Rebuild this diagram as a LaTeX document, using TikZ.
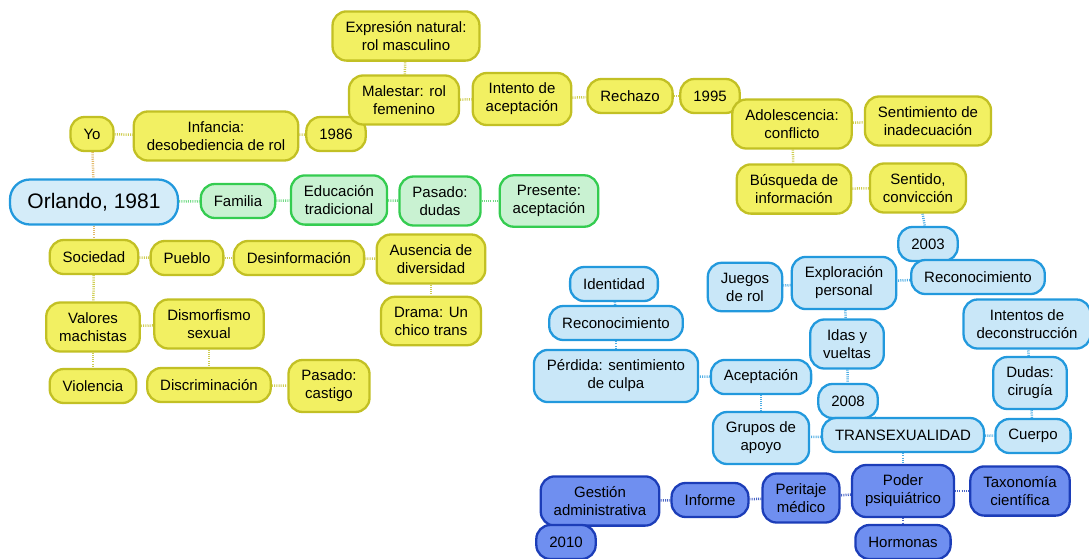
\documentclass[tikz,border=0pt]{standalone}
\usepackage{fontspec}
\setmainfont{Liberation Sans}
\usetikzlibrary{backgrounds}

\definecolor{yfill}{HTML}{F2F062}
\definecolor{yline}{HTML}{C2C024}
\definecolor{gfill}{HTML}{C9F2D2}
\definecolor{gline}{HTML}{34CC50}
\definecolor{bfill}{HTML}{C9E7F8}
\definecolor{bline}{HTML}{2299DD}
\definecolor{dfill}{HTML}{6F8FF0}
\definecolor{dline}{HTML}{1C3DB8}
\definecolor{olink}{HTML}{E2B868}

\tikzset{
  box/.style={draw, line width=2.3pt, rounded corners=14pt, align=center,
    inner xsep=13pt, inner ysep=10pt, minimum height=34pt,
    font=\fontsize{15}{18}\selectfont},
  ybox/.style={box, fill=yfill, draw=yline},
  gbox/.style={box, fill=gfill, draw=gline},
  bbox/.style={box, fill=bfill, draw=bline},
  dbox/.style={box, fill=dfill, draw=dline},
  link/.style={line width=2.5pt, dash pattern=on 1pt off 1.2pt},
  ylink/.style={link, draw=yline!80},
  glink/.style={link, draw=gline!70},
  blink/.style={link, draw=bline!80},
  dlink/.style={link, draw=dline!80},
}

\begin{document}
\begin{tikzpicture}[x=1pt, y=-1pt]
				\useasboundingbox (0,0) rectangle (1089,558);
				% centre
				\node[box, fill=bfill!80, draw=bline, rounded corners=20pt, minimum width=168pt, minimum height=45pt, font=\fontsize{21}{25}\selectfont] (orlando)at(94, 202) {Orlando, 1981};
				% top chain
				\node[ybox] (yo)at(92, 134) {Yo};
				\node[ybox] (infancia)at(216, 136) {Infancia:\\desobediencia de rol};
				\node[ybox] (y1986)at(336, 134) {1986};
				\node[ybox] (expresion)at(406, 36) {Expresión natural:\\rol masculino};
				\node[ybox] (malestar)at(404, 100) {Malestar: rol\\femenino};
				\node[ybox] (intento)at(522, 99) {Intento de\\aceptación};
				\node[ybox] (rechazo)at(630, 96) {Rechazo};
				\node[ybox] (y1995)at(710, 96) {1995};
				\node[ybox] (adolesc)at(792, 124) {Adolescencia:\\conflicto};
				\node[ybox] (sentim)at(928, 121) {Sentimiento de\\inadecuación};
				\node[ybox] (busqueda)at(794, 189) {Búsqueda de\\información};
				\node[ybox] (sentido)at(918, 188) {Sentido,\\convicción};
				% familia
				\node[gbox] (familia)at(238, 201) {Familia};
				\node[gbox] (educacion)at(339, 200) {Educación\\tradicional};
				\node[gbox] (pasdudas)at(440, 201) {Pasado:\\dudas};
				\node[gbox] (presente)at(549, 201) {Presente:\\aceptación};
				% sociedad
				\node[ybox] (sociedad)at(94, 257) {Sociedad};
				\node[ybox] (pueblo)at(187, 258) {Pueblo};
				\node[ybox] (desinfo)at(299, 258) {Desinformación};
				\node[ybox] (ausencia)at(431, 259) {Ausencia de\\diversidad};
				\node[ybox] (drama)at(431, 321) {Drama: Un\\chico trans};
				\node[ybox] (valores)at(93, 327) {Valores\\machistas};
				\node[ybox] (dismorf)at(209, 324) {Dismorfismo\\sexual};
				\node[ybox] (violencia)at(93, 386) {Violencia};
				\node[ybox] (discrim)at(209, 385) {Discriminación};
				\node[ybox] (pascastigo)at(329, 386) {Pasado:\\castigo};
				% transexualidad
				\node[bbox] (y2003)at(928, 244) {2003};
				\node[bbox] (reconocR)at(978, 277) {Reconocimiento};
				\node[bbox] (explor)at(844, 283) {Exploración\\personal};
				\node[bbox] (juegos)at(745, 287) {Juegos\\de rol};
				\node[bbox] (identidad)at(614, 284) {Identidad};
				\node[bbox] (reconocL)at(616, 323) {Reconocimiento};
				\node[bbox] (perdida)at(616, 376) {Pérdida: sentimiento\\de culpa};
				\node[bbox] (aceptacion)at(761, 377) {Aceptación};
				\node[bbox] (idas)at(847, 344) {Idas y\\vueltas};
				\node[bbox] (y2008)at(848, 401) {2008};
				\node[bbox] (intentos)at(1027, 324) {Intentos de\\deconstrucción};
				\node[bbox] (dudas)at(1030, 383) {Dudas:\\cirugía};
				\node[bbox] (cuerpo)at(1033, 436) {Cuerpo};
				\node[bbox] (trans)at(903, 435) {TRANSEXUALIDAD};
				\node[bbox] (grupos)at(761, 438) {Grupos de\\apoyo};
				% poder
				\node[dbox] (poder)at(903, 491) {Poder\\psiquiátrico};
				\node[dbox] (taxonomia)at(1020, 491) {Taxonomía\\científica};
				\node[dbox] (hormonas)at(903, 542) {Hormonas};
				\node[dbox] (peritaje)at(801, 498) {Peritaje\\médico};
				\node[dbox] (informe)at(710, 500) {Informe};
				\node[dbox] (gestion)at(600, 501) {Gestión\\administrativa};
				\node[dbox] (y2010)at(566, 542) {2010};

				\begin{scope}[on background layer]
				\draw[link, draw=olink] (yo) -- (orlando);
				\draw[link, draw=olink] (orlando) -- (sociedad);
				\draw[ylink] (yo) -- (infancia);
				\draw[ylink] (infancia) -- (y1986);
				\draw[ylink] (y1986) -- (malestar);
				\draw[ylink] (malestar) -- (expresion);
				\draw[ylink] (malestar) -- (intento);
				\draw[ylink] (intento) -- (rechazo);
				\draw[ylink] (rechazo) -- (y1995);
				\draw[ylink] (y1995) -- (adolesc);
				\draw[ylink] (adolesc) -- (sentim);
				\draw[ylink] (adolesc) -- (busqueda);
				\draw[ylink] (busqueda) -- (sentido);
				\draw[glink] (orlando) -- (familia);
				\draw[glink] (familia) -- (educacion);
				\draw[glink] (educacion) -- (pasdudas);
				\draw[glink] (pasdudas) -- (presente);
				\draw[ylink] (sociedad) -- (pueblo);
				\draw[ylink] (pueblo) -- (desinfo);
				\draw[ylink] (desinfo) -- (ausencia);
				\draw[ylink] (ausencia) -- (drama);
				\draw[ylink] (sociedad) -- (valores);
				\draw[ylink] (valores) -- (violencia);
				\draw[ylink] (valores) -- (dismorf);
				\draw[ylink] (dismorf) -- (discrim);
				\draw[ylink] (discrim) -- (pascastigo);
				\draw[blink] (sentido) -- (y2003);
				\draw[blink] (y2003) -- (reconocR);
				\draw[blink] (reconocR) -- (explor);
				\draw[blink] (explor) -- (juegos);
				\draw[blink] (explor) -- (idas);
				\draw[blink] (idas) -- (y2008);
				\draw[blink] (y2008) -- (trans);
				\draw[blink] (trans) -- (grupos);
				\draw[blink] (grupos) -- (aceptacion);
				\draw[blink] (aceptacion) -- (perdida);
				\draw[blink] (perdida) -- (reconocL);
				\draw[blink] (reconocL) -- (identidad);
				\draw[blink] (trans) -- (cuerpo);
				\draw[blink] (cuerpo) -- (dudas);
				\draw[blink] (dudas) -- (intentos);
				\draw[blink] (trans) -- (poder);
				\draw[dlink] (poder) -- (taxonomia);
				\draw[dlink] (poder) -- (hormonas);
				\draw[dlink] (poder) -- (peritaje);
				\draw[dlink] (peritaje) -- (informe);
				\draw[dlink] (informe) -- (gestion);
				\draw[dlink] (gestion) -- (y2010);
				\end{scope}
			\end{tikzpicture}
\end{document}
